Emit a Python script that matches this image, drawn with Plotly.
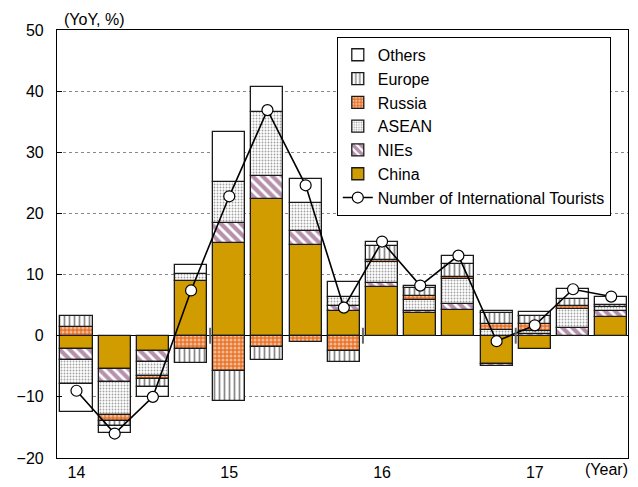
import plotly.graph_objects as go

quarters = ["14Q1", "14Q2", "14Q3", "14Q4", "15Q1", "15Q2", "15Q3", "15Q4",
            "16Q1", "16Q2", "16Q3", "16Q4", "17Q1", "17Q2", "17Q3"]
china = [-2.1, -5.45, -2.45, 8.9, 15.1, 22.4, 14.9, 4.1, 7.9, 3.75, 4.2, -4.7, -2.1, 0.0, 3.1]
nies = [-1.9, -2.2, -1.8, 0.0, 3.3, 3.7, 2.3, 0.8, 0.8, 0.3, 1.0, -0.2, 0.2, 1.2, 1.0]
asean = [-3.9, -5.35, -2.3, 1.2, 6.7, 10.5, 4.55, 1.4, 3.3, 1.8, 4.0, 0.9, 0.6, 3.15, 0.6]
russia = [1.5, -0.9, -0.55, -2.2, -5.85, -1.9, -1.1, -2.45, 0.4, 0.7, 0.45, 1.0, 1.1, 0.5, 0.0]
europe = [1.8, -0.8, -1.35, -2.2, -4.9, -2.0, 0.0, -1.85, 2.3, 1.2, 2.15, 1.8, 1.4, 1.1, 0.4]
others = [-4.5, -1.25, -1.6, 1.5, 8.3, 4.1, 3.95, 2.55, 0.7, 0.45, 1.2, 0.3, 0.5, 1.65, 1.3]
tourists = [-9.0, -16.0, -10.0, 7.4, 22.8, 36.9, 24.6, 4.6, 15.4, 8.2, 13.1, -0.9, 1.7, 7.6, 6.4]

year_tick_idx = [0, 4, 8, 12]
year_labels = ["14", "15", "16", "17"]
year_boundaries = [3.5, 7.5, 11.5]

x = list(range(len(quarters)))
FONT = "Liberation Sans, Arial, sans-serif"
edge = dict(color="#1a1a1a", width=1.3)

series = [
    ("China", china, dict(color="#D09C00", line=edge), 6),
    ("NIEs", nies, dict(color="white", line=edge,
                        pattern=dict(shape="\\", fgcolor="#6B2358", bgcolor="white",
                                     size=7, solidity=0.6)), 5),
    ("ASEAN", asean, dict(color="white", line=edge,
                          pattern=dict(shape=".", fgcolor="#444444", bgcolor="white",
                                       size=3, solidity=0.3)), 4),
    ("Russia", russia, dict(color="#E8742A", line=edge,
                            pattern=dict(shape=".", fgcolor="white", bgcolor="#E8742A",
                                         size=4, solidity=0.45)), 3),
    ("Europe", europe, dict(color="white", line=edge,
                            pattern=dict(shape="|", fgcolor="#111111", bgcolor="white",
                                         size=5, solidity=0.35)), 2),
    ("Others", others, dict(color="white", line=edge), 1),
]

fig = go.Figure()
for name, vals, marker, rank in series:
    fig.add_trace(go.Bar(x=x, y=vals, name=name, marker=marker, width=0.84,
                         legendrank=rank))

fig.add_trace(go.Scatter(
    x=x, y=tourists, name="Number of International Tourists", mode="lines+markers",
    line=dict(color="black", width=1.6),
    marker=dict(symbol="circle", size=11, color="white", line=dict(color="black", width=1.2)),
    legendrank=7,
))

shapes = [dict(type="line", xref="x", yref="y", x0=b, x1=b, y0=-1.3, y1=1.3,
               line=dict(color="#666666", width=2)) for b in year_boundaries]

fig.update_layout(
    width=630, height=479,
    margin=dict(l=49, r=10, t=22, b=29, autoexpand=False),
    barmode="relative",
    bargap=0,
    plot_bgcolor="white", paper_bgcolor="white",
    font=dict(family=FONT, size=16, color="black"),
    shapes=shapes,
    legend=dict(x=0.49, y=0.984, xanchor="left", yanchor="top",
                bgcolor="white", bordercolor="black", borderwidth=1,
                font=dict(size=16, family=FONT), tracegroupgap=0,
                itemwidth=30, traceorder="normal"),
    annotations=[
        dict(text="(YoY, %)", xref="paper", yref="paper", x=0.008, y=1.0,
             xanchor="left", yanchor="bottom", showarrow=False,
             font=dict(size=16, family=FONT)),
        dict(text="(Year)", xref="paper", yref="paper", x=1.003, y=-0.028,
             xanchor="right", yanchor="middle", showarrow=False,
             font=dict(size=16, family=FONT)),
    ],
)
fig.update_xaxes(range=[-0.51, 14.44], tickvals=year_tick_idx, ticktext=year_labels,
                 showgrid=False, zeroline=False, showline=True, mirror=True,
                 linecolor="black", linewidth=1.2, ticks="", tickfont=dict(size=16),
                 automargin=False)
fig.update_yaxes(range=[-20, 50], dtick=10, showgrid=True, gridcolor="#888888",
                 griddash="dot", gridwidth=1, zeroline=True, zerolinecolor="black",
                 zerolinewidth=1.2, showline=True, mirror=True, linecolor="black",
                 linewidth=1.2, ticks="inside", ticklen=5, tickcolor="black",
                 ticklabelstandoff=9, tickfont=dict(size=16), automargin=False)

fig.write_html("out.html")
